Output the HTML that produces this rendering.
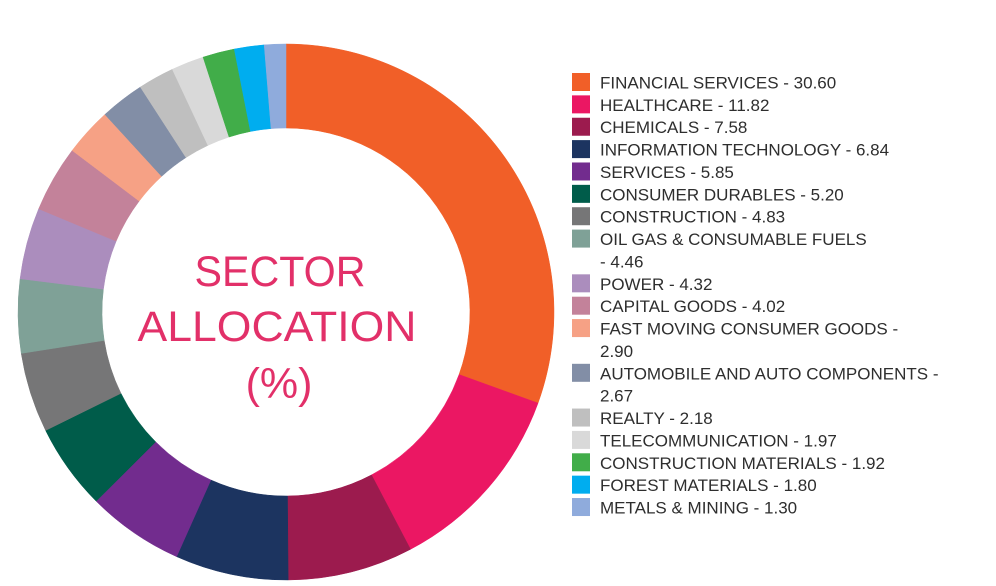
<!DOCTYPE html>
<html><head><meta charset="utf-8"><style>
html,body{margin:0;padding:0;background:#fff;}
svg{display:block;}
</style></head><body>
<svg id="s" width="996" height="586" viewBox="0 0 996 586" xmlns="http://www.w3.org/2000/svg">
<g id="arcs"></g>
<g font-family="Liberation Sans, sans-serif" fill="#e23069" font-size="43" text-anchor="middle">
<text x="280" y="286" textLength="171" lengthAdjust="spacingAndGlyphs">SECTOR</text>
<text x="277" y="341" textLength="279" lengthAdjust="spacingAndGlyphs">ALLOCATION</text>
<text x="279" y="398">(%)</text>
</g>
<g id="leg" font-family="Liberation Sans, sans-serif" font-size="17" fill="#2e2e2e"></g>
</svg>
<script>
var d=[["FINANCIAL SERVICES - 30.60",30.6,"#f15f28"],["HEALTHCARE - 11.82",11.82,"#eb1763"],["CHEMICALS - 7.58",7.58,"#9c1b4e"],["INFORMATION TECHNOLOGY - 6.84",6.84,"#1c3460"],["SERVICES - 5.85",5.85,"#722c8e"],["CONSUMER DURABLES - 5.20",5.2,"#005c4a"],["CONSTRUCTION - 4.83",4.83,"#767677"],["OIL GAS & CONSUMABLE FUELS|- 4.46",4.46,"#7fa197"],["POWER - 4.32",4.32,"#ab8dbd"],["CAPITAL GOODS - 4.02",4.02,"#c3829a"],["FAST MOVING CONSUMER GOODS -|2.90",2.9,"#f6a185"],["AUTOMOBILE AND AUTO COMPONENTS -|2.67",2.67,"#828ea6"],["REALTY - 2.18",2.18,"#bfbfbf"],["TELECOMMUNICATION - 1.97",1.97,"#d9d9d9"],["CONSTRUCTION MATERIALS - 1.92",1.92,"#41ad49"],["FOREST MATERIALS - 1.80",1.8,"#00adef"],["METALS & MINING - 1.30",1.3,"#8fabdc"]];
var tot=0;d.forEach(function(e){tot+=e[1];});
var cx=286,cy=312,R=268,r=184,a=0,ns="http://www.w3.org/2000/svg";
var g=document.getElementById("arcs"),L=document.getElementById("leg");
function p(rad,ang){return [cx+rad*Math.sin(ang),cy-rad*Math.cos(ang)];}
var line=0;
d.forEach(function(e){
 var a0=a/tot*2*Math.PI;a+=e[1];var a1=a/tot*2*Math.PI;var lg=(a1-a0)>Math.PI?1:0;
 var A=p(R,a0),B=p(R,a1),C=p(r,a1),D=p(r,a0);
 var pa=document.createElementNS(ns,"path");
 pa.setAttribute("d","M"+A+"A"+R+","+R+" 0 "+lg+" 1 "+B+"L"+C+"A"+r+","+r+" 0 "+lg+" 0 "+D+"Z");
 pa.setAttribute("fill",e[2]);pa.setAttribute("stroke",e[2]);pa.setAttribute("stroke-width","0.5");g.appendChild(pa);
 var yc=82+line*22.37;
 var rc=document.createElementNS(ns,"rect");rc.setAttribute("x",572);rc.setAttribute("y",yc-9);rc.setAttribute("width",18);rc.setAttribute("height",18);rc.setAttribute("fill",e[2]);L.appendChild(rc);
 e[0].split("|").forEach(function(t){
  var tx=document.createElementNS(ns,"text");tx.setAttribute("x",600);tx.setAttribute("y",82+line*22.37+6.5);tx.textContent=t;L.appendChild(tx);line++;
 });
});
</script>
</body></html>
